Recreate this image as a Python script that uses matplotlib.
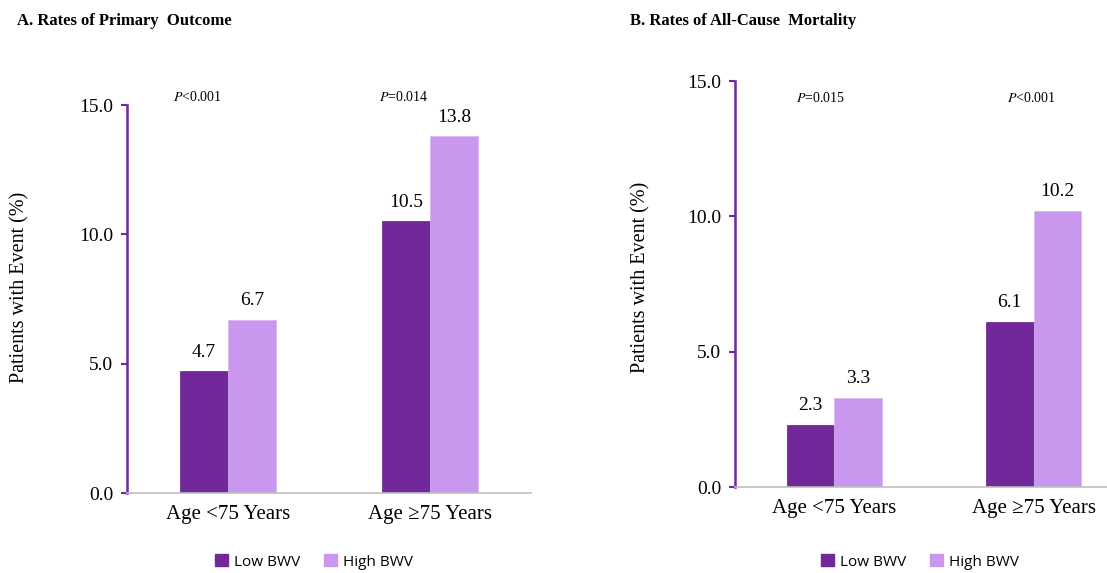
import matplotlib.pyplot as plt
import numpy as np

# event rates (%) by age group
groups = ["Age <75 Years", "Age \u226575 Years"]
primary_low = [4.7, 10.5]
primary_high = [6.7, 13.8]
mortality_low = [2.3, 6.1]
mortality_high = [3.3, 10.2]
primary_p = ["<0.001", "=0.014"]
mortality_p = ["=0.015", "<0.001"]
yticks = [0.0, 5.0, 10.0, 15.0]

dark = "#70289A"
light = "#C997EE"
serif = "Liberation Serif"

fig = plt.figure(figsize=(11.07, 5.73), dpi=100)
W, H = 1107, 573


def px_axes(x0, x1, ytop, ybot):
    return fig.add_axes([x0 / W, 1 - ybot / H, (x1 - x0) / W, (ybot - ytop) / H])


def draw_panel(ax, low, high, pvals, p_x, p_y):
    x = np.arange(len(groups)) + 0.5
    w = 0.24
    ax.bar(x - w / 2, low, w, color=dark, edgecolor="#5E2082", linewidth=0.5)
    ax.bar(x + w / 2, high, w, color=light, edgecolor="#D9B5F3", linewidth=0.5)
    for xi, v in zip(x - w / 2, low):
        ax.text(xi, v + 0.4, f"{v:.1f}", ha="center", va="bottom",
                fontsize=14, family=serif)
    for xi, v in zip(x + w / 2, high):
        ax.text(xi, v + 0.4, f"{v:.1f}", ha="center", va="bottom",
                fontsize=14, family=serif)
    for xi, p in zip(p_x, pvals):
        ax.text(xi, p_y, f"$\\mathit{{P}}${p}", ha="center", va="center",
                fontsize=10, family=serif)
    ax.set_xlim(0, 2)
    ax.set_ylim(0, 15)
    ax.set_yticks(yticks)
    ax.set_yticklabels([f"{t:.1f}" for t in yticks], fontsize=14, family=serif)
    ax.set_xticks(x)
    ax.set_xticklabels(groups, fontsize=15, family=serif)
    ax.tick_params(axis="y", color=dark, length=4, width=1.5, pad=6)
    ax.tick_params(axis="x", length=0, pad=9)
    for s in ["top", "right"]:
        ax.spines[s].set_visible(False)
    ax.spines["left"].set_color(dark)
    ax.spines["left"].set_linewidth(1.8)
    ax.spines["bottom"].set_color("#BFBFBF")
    ax.spines["bottom"].set_linewidth(1.2)


plt.rcParams["mathtext.fontset"] = "stix"

axA = px_axes(127, 531, 105, 493)
draw_panel(axA, primary_low, primary_high, primary_p, [0.35, 1.37], 15.3)

axB = px_axes(735, 1133, 81, 487)
draw_panel(axB, mortality_low, mortality_high, mortality_p, [0.43, 1.49], 14.37)

fig.text(17 / W, 1 - 21 / H, "A. Rates of Primary  Outcome", fontsize=12,
         fontweight="bold", family=serif, ha="left", va="center")
fig.text(630 / W, 1 - 21 / H, "B. Rates of All-Cause  Mortality", fontsize=12,
         fontweight="bold", family=serif, ha="left", va="center")

fig.text(20 / W, 1 - 287 / H, "Patients with Event (%)", rotation=90,
         fontsize=14.5, family=serif, ha="center", va="center")
fig.text(641 / W, 1 - 277 / H, "Patients with Event (%)", rotation=90,
         fontsize=14.5, family=serif, ha="center", va="center")

# legends below each panel
for cx in (314, 920):
    handles = [plt.Rectangle((0, 0), 1, 1, color=dark),
               plt.Rectangle((0, 0), 1, 1, color=light)]
    fig.legend(handles, ["Low BWV", "High BWV"], loc="center",
               bbox_to_anchor=(cx / W, 1 - 562 / H), ncol=2, frameon=False,
               prop={"family": "Open Sans", "size": 11}, handlelength=0.8,
               handleheight=0.8, handletextpad=0.4, columnspacing=1.6)

fig.savefig("out.png", dpi=100)
